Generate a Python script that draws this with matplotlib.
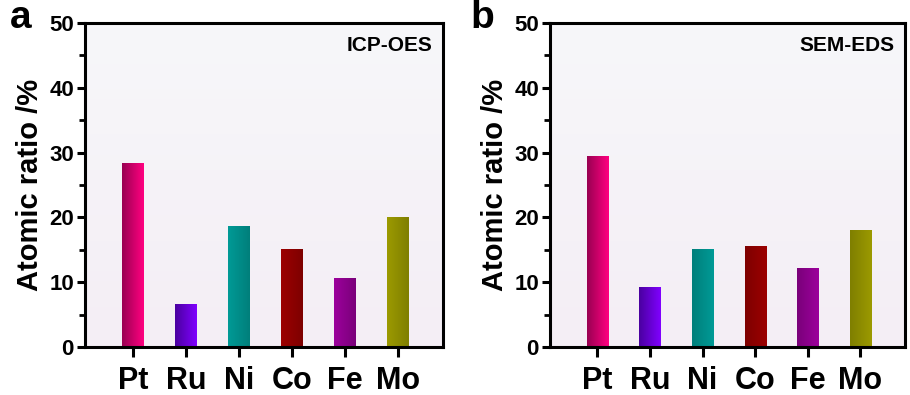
import numpy as np
import matplotlib.pyplot as plt
from matplotlib.colors import LinearSegmentedColormap
from matplotlib.ticker import MultipleLocator

plt.rcParams['font.family'] = ['Liberation Sans', 'DejaVu Sans']
plt.rcParams['font.weight'] = 'bold'

elements = ['Pt', 'Ru', 'Ni', 'Co', 'Fe', 'Mo']
icp_oes = [28.4, 6.7, 18.6, 15.1, 10.7, 20.1]
sem_eds = [29.5, 9.3, 15.1, 15.6, 12.2, 18.1]

# dark / bright shade of each bar
dark = ['#990052', '#4a00a0', '#007f7b', '#7e0000', '#7a007a', '#7f7f00']
bright = ['#ff0080', '#8000ff', '#009a96', '#9c0000', '#9c009c', '#9c9a00']


def gradient_bars(ax, values, flip):
    x = np.arange(1, len(values) + 1)
    bars = ax.bar(x, values, width=0.4, color='none', edgecolor='none', zorder=2)
    ramp = np.linspace(0, 1, 64).reshape(1, -1)
    for i, b in enumerate(bars):
        c = [dark[i], bright[i]]
        if flip[i]:
            c = c[::-1]
        cmap = LinearSegmentedColormap.from_list('g%d' % i, c)
        im = ax.imshow(ramp, cmap=cmap, aspect='auto', zorder=2,
                       extent=(b.get_x(), b.get_x() + b.get_width(), 0, b.get_height()))
        im.set_clip_path(b)


def panel(ax, values, flip, tag, tag_size, letter, letter_x):
    # faint vertical wash behind the bars
    bg = LinearSegmentedColormap.from_list('bg', ['#f4eef5', '#f7f7fa'])
    ax.imshow(np.linspace(0, 1, 64).reshape(-1, 1), cmap=bg, aspect='auto',
              origin='lower', extent=(0.1, 6.85, 0, 50), zorder=0)
    gradient_bars(ax, values, flip)
    ax.set_xlim(0.1, 6.85)
    ax.set_ylim(0, 50)
    ax.set_xticks(range(1, 7))
    ax.set_xticklabels(elements, fontsize=22, fontweight='bold')
    ax.yaxis.set_major_locator(MultipleLocator(10))
    ax.yaxis.set_minor_locator(MultipleLocator(5))
    ax.tick_params(axis='y', which='major', direction='out', length=6, width=2.2,
                   labelsize=16, pad=2)
    ax.tick_params(axis='y', which='minor', direction='out', length=4, width=2)
    ax.tick_params(axis='x', direction='out', length=7, width=2.2, pad=7)
    for lab in ax.get_yticklabels():
        lab.set_fontweight('bold')
    for s in ax.spines.values():
        s.set_linewidth(2.2)
    ax.set_ylabel('Atomic ratio /%', fontsize=21, fontweight='bold', labelpad=4)
    ax.text(0.97, 0.932, tag, transform=ax.transAxes, ha='right', va='center',
            fontsize=tag_size, fontweight='bold')
    ax.text(letter_x, 0.985, letter, transform=ax.transAxes, ha='center',
            va='baseline', fontsize=28, fontweight='bold')


fig = plt.figure(figsize=(9.1, 3.95), dpi=100)
ax1 = fig.add_axes([85 / 910, 48 / 395, 358 / 910, 324 / 395])
ax2 = fig.add_axes([550 / 910, 48 / 395, 355 / 910, 324 / 395])

panel(ax1, icp_oes, [False, False, True, True, True, True],
      'ICP-OES', 15, 'a', -0.18)
panel(ax2, sem_eds, [False] * 6, 'SEM-EDS', 15, 'b', -0.19)

fig.savefig('out.png', dpi=100)
